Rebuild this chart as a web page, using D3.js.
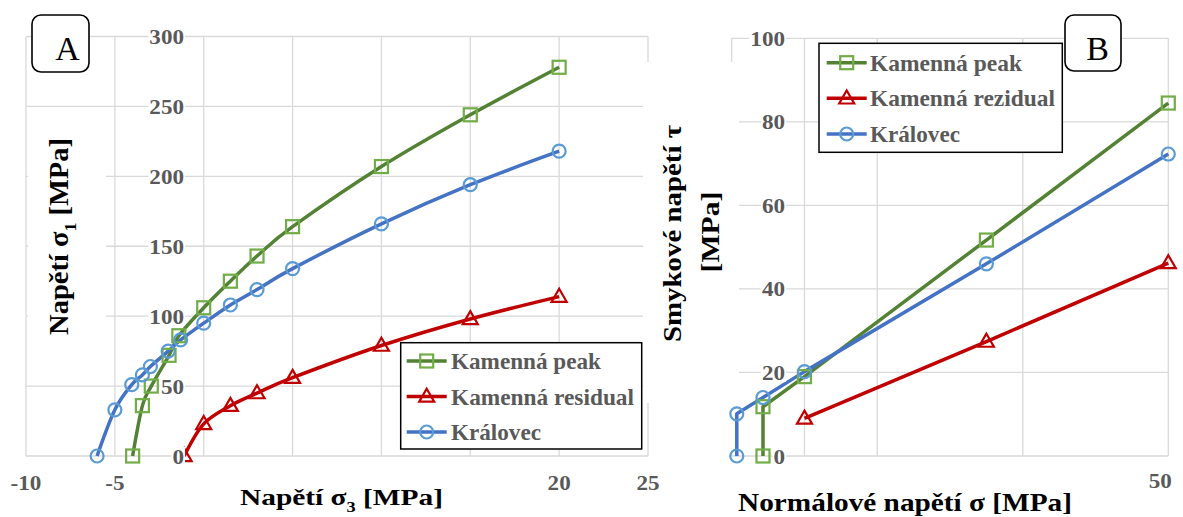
<!DOCTYPE html>
<html><head><meta charset="utf-8">
<script src="https://cdn.jsdelivr.net/npm/d3@7"></script>
<style>body{margin:0;background:#fff}svg{display:block}</style>
</head><body>
<svg id="c" width="1183" height="517"></svg>
<script>
// ---------- DATA ----------
// Chart A: sigma1 vs sigma3
const legendA = ["Kamenná peak", "Kamenná residual", "Královec"];
const aPeakX = [-4, -3.45, -2.95, -1.95, -1.4, 0, 1.5, 3, 5, 10, 15, 20];
const aPeakY = [0, 36, 50, 72, 86, 106, 125, 143, 164, 207, 244, 278];
const aResX = [-1.1, 0, 1.5, 3, 5, 10, 15, 20];
const aResY = [0, 23, 36, 45, 56, 79, 98, 114];
const aKralX = [-6, -5, -4.05, -3.45, -3, -2, -1.3, 0, 1.5, 3, 5, 10, 15, 20];
const aKralY = [0, 33, 51, 58, 64, 75, 83, 95, 108, 119, 134, 166, 194, 218];
const aXTicks = [-10, -5, 20, 25];
const aYTicks = [0, 50, 100, 150, 200, 250, 300];

// Chart B: tau vs sigma
const legendB = ["Kamenná peak", "Kamenná rezidual", "Královec"];
const bPeakX = [-5.7, -5.7, 0, 25, 50];
const bPeakY = [0, 11.8, 19, 51.7, 84.5];
const bResX = [0, 25, 50];
const bResY = [9, 27.4, 46.2];
const bKralX = [-9.3, -9.3, -5.7, 0, 25, 50];
const bKralY = [0, 10.1, 14, 20.2, 46, 72.3];
const bXTicks = [50];
const bYTicks = [0, 20, 40, 60, 80, 100];

// ---------- STYLE ----------
const SERIF = "Liberation Serif, Times New Roman, serif";
const GRID = "#d9d9d9";
const TXT = "#595959";
const LW = 3.5;
const styles = [
  {line: "#548235", mark: "#70AD47", shape: "square"},
  {line: "#C00000", mark: "#C00000", shape: "triangle"},
  {line: "#4472C4", mark: "#5B9BD5", shape: "circle"}
];

const svg = d3.select("#c");
const zip = (xs, ys) => xs.map((x, i) => ({x, y: ys[i]}));

function bText(sel, size, color) {
  return sel.attr("font-family", SERIF).attr("font-weight", "bold").attr("font-size", size).attr("fill", color);
}

function marker(g, shape, color, cx, cy) {
  if (shape === "square") {
    g.append("rect").attr("x", cx - 6.5).attr("y", cy - 6.5).attr("width", 13).attr("height", 13)
      .attr("fill", "none").attr("stroke", color).attr("stroke-width", 2.2);
  } else if (shape === "circle") {
    g.append("circle").attr("cx", cx).attr("cy", cy).attr("r", 6.5)
      .attr("fill", "none").attr("stroke", color).attr("stroke-width", 2.2);
  } else {
    const s = 15, h = s * Math.sqrt(3) / 2;
    g.append("path").attr("d", `M${cx},${cy - h * 0.6}L${cx + s / 2},${cy + h * 0.4}L${cx - s / 2},${cy + h * 0.4}Z`)
      .attr("fill", "none").attr("stroke", color).attr("stroke-width", 2.2);
  }
}

// tick label with white background; sx = horizontal stretch
function tickLabel(g, text, x, y, anchor, size, sx) {
  const grp = g.append("g").attr("transform", `translate(${x},${y}) scale(${sx},1)`);
  const t = bText(grp.append("text").attr("text-anchor", anchor), size, TXT).text(text);
  const b = t.node().getBBox();
  grp.insert("rect", "text").attr("x", b.x - 1).attr("y", b.y + 3).attr("width", b.width + 2)
    .attr("height", b.height - 6).attr("fill", "#fff");
}

// title (with optional subscript) fitted to a target length
function title(parts, cx, cy, rot, size, targetLen) {
  const g = svg.append("g");
  const t = bText(g.append("text").attr("text-anchor", "middle"), size, "#000");
  parts.forEach(p => {
    const ts = t.append("tspan").text(p.t);
    if (p.sub) ts.attr("font-size", size * 0.62).attr("dy", size * 0.3);
    if (p.back) ts.attr("dy", -size * 0.3);
  });
  const w = t.node().getBBox().width;
  g.attr("transform", `translate(${cx},${cy}) rotate(${rot}) scale(${targetLen / w},1)`);
}

function drawGrid(x, y, xGrid, yGrid) {
  const g = svg.append("g");
  const [x0, x1] = x.range(), [y0, y1] = y.range();
  g.selectAll("line.v").data(xGrid).join("line").attr("class", "v")
    .attr("x1", d => x(d)).attr("x2", d => x(d)).attr("y1", y0).attr("y2", y1)
    .attr("stroke", GRID).attr("stroke-width", 1.3);
  g.selectAll("line.h").data(yGrid).join("line").attr("class", "h")
    .attr("x1", x0).attr("x2", x1).attr("y1", d => y(d)).attr("y2", d => y(d))
    .attr("stroke", GRID).attr("stroke-width", 1.3);
}

function drawSeries(x, y, series, smooth) {
  const g = svg.append("g");
  const line = d3.line().x(d => x(d.x)).y(d => y(d.y))
    .curve(smooth ? d3.curveCardinal.tension(0) : d3.curveLinear);
  series.forEach((s, i) => {
    g.append("path").attr("d", line(s)).attr("fill", "none")
      .attr("stroke", styles[i].line).attr("stroke-width", LW).attr("stroke-linejoin", "round");
  });
  series.forEach((s, i) => s.forEach(d => marker(g, styles[i].shape, styles[i].mark, x(d.x), y(d.y))));
}

function legend(names, widths, bx, by, bw, bh, rows, sx0, tx) {
  const g = svg.append("g");
  g.append("rect").attr("x", bx).attr("y", by).attr("width", bw).attr("height", bh)
    .attr("fill", "#fff").attr("stroke", "#000").attr("stroke-width", 1.5);
  names.forEach((n, i) => {
    const yy = rows[i];
    g.append("line").attr("x1", sx0).attr("x2", sx0 + 40).attr("y1", yy).attr("y2", yy)
      .attr("stroke", styles[i].line).attr("stroke-width", LW);
    marker(g, styles[i].shape, styles[i].mark, sx0 + 20, yy);
    bText(g.append("text").attr("x", tx).attr("y", yy + 8), 24, TXT)
      .attr("textLength", widths[i]).attr("lengthAdjust", "spacingAndGlyphs").text(n);
  });
}

function panelBox(label, bx, by, w, h, lx, ly) {
  const g = svg.append("g");
  g.append("rect").attr("x", bx).attr("y", by).attr("width", w).attr("height", h).attr("rx", 9)
    .attr("fill", "#fff").attr("stroke", "#000").attr("stroke-width", 1.6);
  g.append("text").attr("x", lx).attr("y", ly).attr("text-anchor", "middle")
    .attr("font-family", SERIF).attr("font-size", 34).attr("fill", "#000").text(label);
}

// ---------- SCALES ----------
const xA = d3.scaleLinear().domain([-10, 25]).range([26, 648]);
const yA = d3.scaleLinear().domain([0, 300]).range([456, 36.5]);
const seriesA = [zip(aPeakX, aPeakY), zip(aResX, aResY), zip(aKralX, aKralY)];
const xB = d3.scaleLinear().domain([-10, 50]).range([731.7, 1168.3]);
const yB = d3.scaleLinear().domain([0, 100]).range([456, 38.3]);
const seriesB = [zip(bPeakX, bPeakY), zip(bResX, bResY), zip(bKralX, bKralY)];

drawGrid(xA, yA, d3.range(-10, 26, 5), d3.range(0, 301, 50));
drawGrid(xB, yB, [-10, 0, 10, 30, 50], d3.range(0, 101, 20));

// title backgrounds (occlude gridlines)
svg.append("rect").attr("x", 28).attr("y", 108).attr("width", 78).attr("height", 262).attr("fill", "#fff");
svg.append("rect").attr("x", 643).attr("y", 62).attr("width", 96).attr("height", 341).attr("fill", "#fff");
svg.append("rect").attr("x", 650).attr("y", 403).attr("width", 89).attr("height", 50).attr("fill", "#fff");

drawSeries(xA, yA, seriesA, true);
drawSeries(xB, yB, seriesB, false);

// tick labels
const tk = svg.append("g");
aYTicks.forEach(v => tickLabel(tk, v, 184, yA(v) + 7.5, "end", 22, 1.05));
aXTicks.forEach(v => tickLabel(tk, v, xA(v), 490, "middle", 22, 1.05));
bYTicks.forEach(v => tickLabel(tk, v, 785, yB(v) + 7.5, "end", 22, 1.05));
bXTicks.forEach(v => tickLabel(tk, v, xB(v) - 8, 488, "middle", 22, 1.05));

// legends
legend(legendA, [150, 183, 90], 400.7, 342.7, 241, 106.3, [361, 396.5, 432], 406.7, 451);
legend(legendB, [152, 185, 90], 819, 43.3, 243.3, 109, [62.7, 98.3, 134], 826.7, 870);

// panel labels
panelBox("A", 32, 15, 57, 57, 67.5, 60);
panelBox("B", 1065, 15, 56, 56, 1097.5, 60);

// axis titles
title([{t: "Napětí σ"}, {t: "3", sub: true}, {t: " [MPa]", back: true}], 341.5, 505, 0, 24, 203);
title([{t: "Normálové napětí σ [MPa]"}], 905, 510.5, 0, 26, 334);
title([{t: "Napětí σ"}, {t: "1", sub: true}, {t: " [MPa]", back: true}], 68, 236.5, -90, 27, 197);
title([{t: "Smykové napětí τ"}], 681, 233.5, -90, 26, 217);
title([{t: "[MPa]"}], 719, 232, -90, 26, 81);
</script>
</body></html>
